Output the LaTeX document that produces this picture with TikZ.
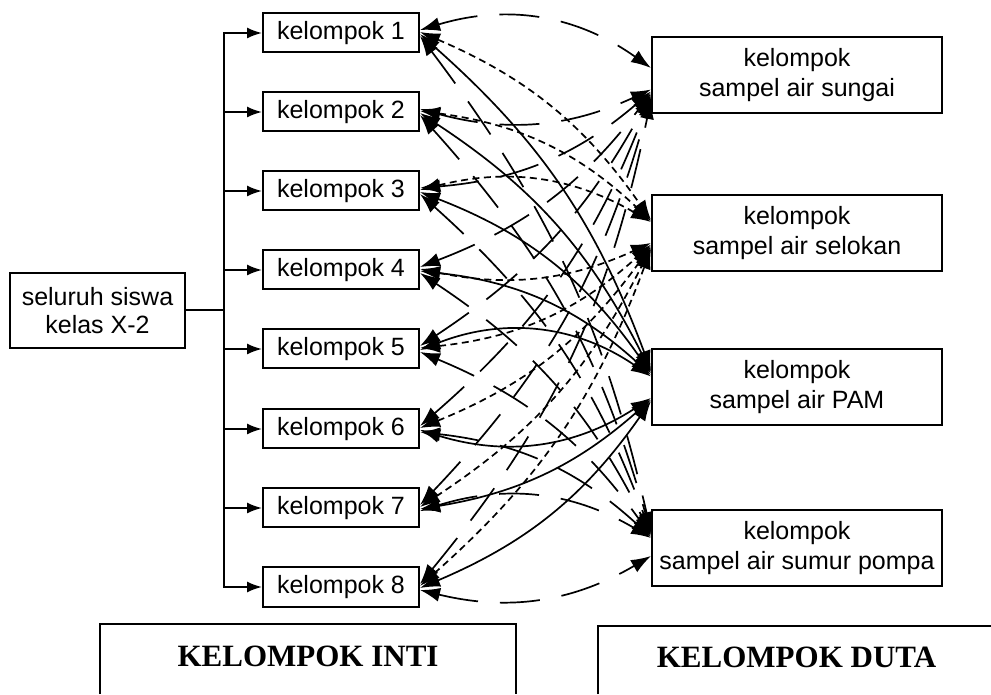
\documentclass[tikz,border=0pt]{standalone}
\usepackage{fontspec}
\setmainfont{Liberation Sans}
\newfontfamily\headfont{Liberation Serif}
\usetikzlibrary{arrows.meta}
\begin{document}
\begin{tikzpicture}[x=1pt,y=1pt,
  box/.style={draw, line width=2pt, inner sep=0pt, font=\fontsize{25}{28}\selectfont},
  kbox/.style={box, minimum width=156pt, minimum height=39pt},
  dbox/.style={box, minimum width=290pt, minimum height=76pt, align=center,
               font=\fontsize{25}{30}\selectfont},
  branch/.style={line width=1.9pt, -{Latex[length=15pt,width=11pt]}},
  link/.style={line width=1.7pt,
               {Latex[length=20pt,width=14pt]}-{Latex[length=20pt,width=14pt]}},
  link1/.style={link, dash pattern=on 40pt off 22pt},
  link2/.style={link, dash pattern=on 7pt off 4.5pt},
  link3/.style={link},
  link4/.style={link, dash pattern=on 40pt off 22pt},
  frame/.style={line width=2pt},
  head/.style={font=\headfont\bfseries\fontsize{31}{34}\selectfont}
]
\useasboundingbox (0,0) rectangle (991,694);

% whole class
\node[box, minimum width=175pt, minimum height=75pt, align=center] (siswa)
  at (97.5,383.5) {seluruh siswa\\kelas X-2};

% home groups
\foreach \i/\y in {1/661,2/582,3/503,4/424,5/345,6/265,7/186,8/107}
  \node[kbox] (k\i) at (341,\y) {kelompok \i};

% expert groups
\node[dbox] (d1) at (797,618.5) {kelompok\\sampel air sungai};
\node[dbox] (d2) at (797,460.5) {kelompok\\sampel air selokan};
\node[dbox] (d3) at (797,306.5) {kelompok\\sampel air PAM};
\node[dbox] (d4) at (797,146)   {kelompok\\sampel air sumur pompa};

% splitting the class into home groups
\coordinate (bus) at (224,383.5);
\draw[frame] (siswa.east) -- (bus);
\foreach \i in {1,...,8}
  \draw[branch] (bus) |- (k\i.west);

% exchange between home groups and expert groups
\foreach \i/\j/\b/\ks/\ds in {
  1/1/26/3/7.5,  2/1/-20/3/-14,  3/1/-18/3/-16,  4/1/-16/3/-17.5,
  5/1/-14/3/-19, 6/1/-14/3/-20.5, 7/1/-14/3/-22, 8/1/-14/3/-23.5,
  1/2/16/1/13.5, 2/2/18/1/12.5,  3/2/22/1/11.5,  4/2/-18/1/-9.5,
  5/2/-18/1/-11, 6/2/-16/1/-12.5, 7/2/-15/1/-14, 8/2/-14/1/-15.5,
  1/3/14/-1/17,  2/3/15/-1/15.5, 3/3/17/-1/14,   4/3/18/-1/12.5,
  5/3/28/-1/11,  6/3/-25/-1/-10.5, 7/3/-16/-1/-12, 8/3/-16/-1/-13.5,
  1/4/12/-3/16,  2/4/13/-3/15,   3/4/14/-3/14,   4/4/15/-3/13,
  5/4/16/-3/12,  6/4/18/-3/11,   7/4/24/-3/10,   8/4/-22/-3/-8}
{
  \pgfmathsetmacro\inang{180-\b}
  \draw[link\j] ([yshift=\ks pt]k\i.east)
    to[out=\b, in=\inang, relative] ([yshift=\ds pt]d\j.west);
}

% captions
\draw[frame] (100,0) -- (100,70) -- (516,70) -- (516,0);
\node[head] (inti) at (308,38) {KELOMPOK INTI};
\draw[frame] (598,0) -- (598,68) -- (991,68);
\node[head] (duta) at (796.5,36.5) {KELOMPOK DUTA};
\end{tikzpicture}
\end{document}
